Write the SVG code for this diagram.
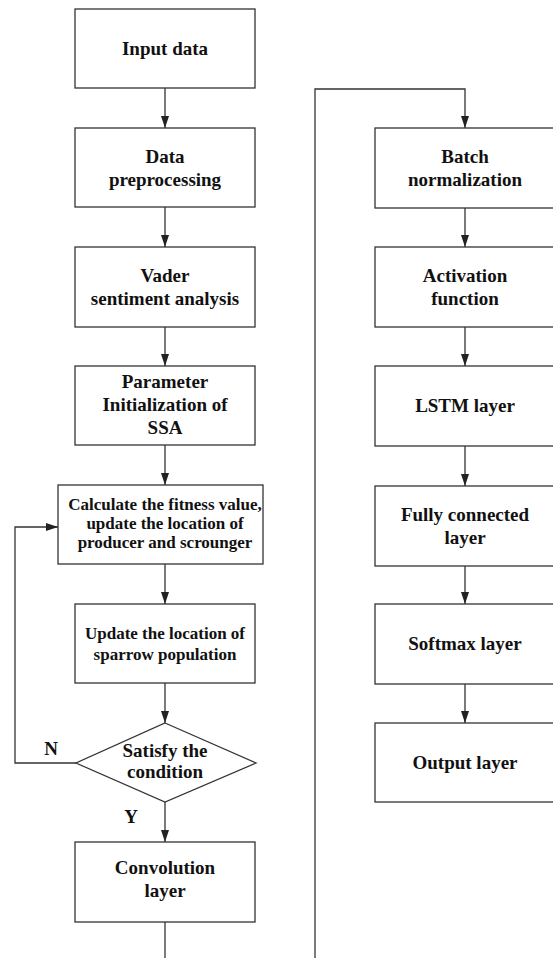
<svg xmlns="http://www.w3.org/2000/svg" width="553" height="958" viewBox="0 0 553 958">
<style>
.box{fill:#fff;stroke:#333;stroke-width:1.3}
.ln{fill:none;stroke:#333;stroke-width:1.3}
.t{font-family:"Liberation Serif","Times New Roman",serif;font-weight:bold;font-size:19px;fill:#111;text-anchor:middle}
.s{font-size:17px}
</style>
<defs>
<marker id="ah" markerWidth="12" markerHeight="8" refX="12" refY="4" viewBox="0 0 12 8" orient="auto" markerUnits="userSpaceOnUse">
<path d="M0,0 L12,4 L0,8 Z" fill="#222"/>
</marker>
</defs>
<rect width="553" height="958" fill="#fff"/>
<g id="connectors">
<line class="ln" x1="165" y1="88" x2="165" y2="128" marker-end="url(#ah)"/>
<line class="ln" x1="165" y1="207" x2="165" y2="247" marker-end="url(#ah)"/>
<line class="ln" x1="165" y1="327" x2="165" y2="366" marker-end="url(#ah)"/>
<line class="ln" x1="165" y1="445" x2="165" y2="485" marker-end="url(#ah)"/>
<line class="ln" x1="165" y1="564" x2="165" y2="604" marker-end="url(#ah)"/>
<line class="ln" x1="165" y1="683" x2="165" y2="723" marker-end="url(#ah)"/>
<line class="ln" x1="165" y1="802" x2="165" y2="842" marker-end="url(#ah)"/>
<polyline class="ln" points="76,763 15,763 15,527 58,527" marker-end="url(#ah)"/>
<polyline class="ln" points="165,922 165,960"/>
<polyline class="ln" points="315,960 315,89 465,89 465,128" marker-end="url(#ah)"/>
<line class="ln" x1="465" y1="208" x2="465" y2="247" marker-end="url(#ah)"/>
<line class="ln" x1="465" y1="327" x2="465" y2="366" marker-end="url(#ah)"/>
<line class="ln" x1="465" y1="446" x2="465" y2="486" marker-end="url(#ah)"/>
<line class="ln" x1="465" y1="566" x2="465" y2="604" marker-end="url(#ah)"/>
<line class="ln" x1="465" y1="684" x2="465" y2="723" marker-end="url(#ah)"/>
<text class="t" x="51" y="755">N</text>
<text class="t" x="131" y="823">Y</text>
</g>
<g id="input"><rect class="box" x="75" y="9" width="180" height="79"/><text class="t" x="165" y="55">Input data</text></g>
<g id="preprocess"><rect class="box" x="75" y="128" width="180" height="79"/><text class="t" x="165" y="163">Data</text><text class="t" x="165" y="186">preprocessing</text></g>
<g id="vader"><rect class="box" x="75" y="247" width="180" height="80"/><text class="t" x="165" y="282">Vader</text><text class="t" x="165" y="305">sentiment analysis</text></g>
<g id="param"><rect class="box" x="75" y="366" width="180" height="79"/><text class="t" x="165" y="388">Parameter</text><text class="t" x="165" y="411">Initialization of</text><text class="t" x="165" y="434">SSA</text></g>
<g id="fitness"><rect class="box" x="58" y="485" width="205" height="79"/><text class="t s" x="165" y="510">Calculate the fitness value,</text><text class="t s" x="165" y="529">update the location of</text><text class="t s" x="165" y="548">producer and scrounger</text></g>
<g id="update"><rect class="box" x="75" y="604" width="180" height="79"/><text class="t s" x="165" y="639">Update the location of</text><text class="t s" x="165" y="660">sparrow population</text></g>
<g id="condition"><polygon class="box" points="165,723 256,763 165,802 76,763"/><text class="t" x="165" y="757">Satisfy the</text><text class="t" x="165" y="778">condition</text></g>
<g id="conv"><rect class="box" x="75" y="842" width="180" height="80"/><text class="t" x="165" y="874">Convolution</text><text class="t" x="165" y="897">layer</text></g>
<g id="batch"><rect class="box" x="375" y="128" width="180" height="80"/><text class="t" x="465" y="163">Batch</text><text class="t" x="465" y="186">normalization</text></g>
<g id="activation"><rect class="box" x="375" y="247" width="180" height="80"/><text class="t" x="465" y="282">Activation</text><text class="t" x="465" y="305">function</text></g>
<g id="lstm"><rect class="box" x="375" y="366" width="180" height="80"/><text class="t" x="465" y="412">LSTM layer</text></g>
<g id="fc"><rect class="box" x="375" y="486" width="180" height="80"/><text class="t" x="465" y="521">Fully connected</text><text class="t" x="465" y="544">layer</text></g>
<g id="softmax"><rect class="box" x="375" y="604" width="180" height="80"/><text class="t" x="465" y="650">Softmax layer</text></g>
<g id="output"><rect class="box" x="375" y="723" width="180" height="79"/><text class="t" x="465" y="769">Output layer</text></g>
</svg>
